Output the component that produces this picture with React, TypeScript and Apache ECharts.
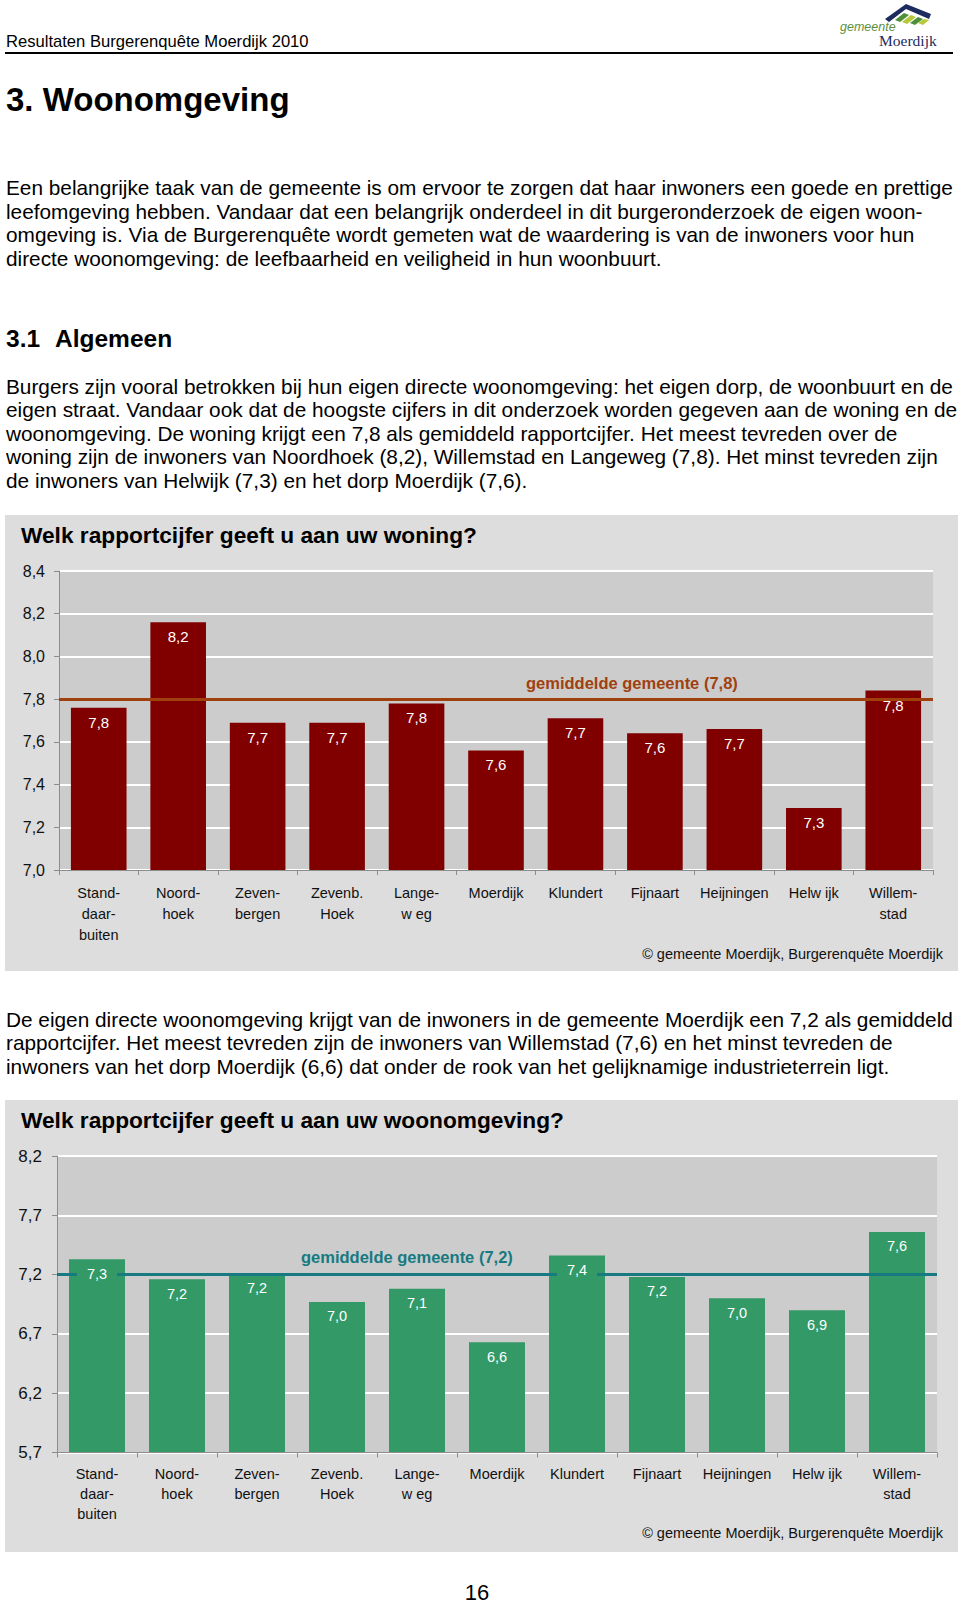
import React, { useEffect, useRef } from "react";
import * as echarts from "echarts";

// ---------- data ----------
const categories = [
  "Stand-\ndaar-\nbuiten",
  "Noord-\nhoek",
  "Zeven-\nbergen",
  "Zevenb.\nHoek",
  "Lange-\nw eg",
  "Moerdijk",
  "Klundert",
  "Fijnaart",
  "Heijningen",
  "Helw ijk",
  "Willem-\nstad",
];
const woningValues = [7.76, 8.16, 7.69, 7.69, 7.78, 7.56, 7.71, 7.64, 7.66, 7.29, 7.84];
const woningAverage = 7.8;
const woningAxis = [7.0, 8.4, 0.2]; // min, max, interval

const woonomgevingValues = [7.33, 7.16, 7.21, 6.97, 7.08, 6.63, 7.36, 7.18, 7.0, 6.9, 7.56];
const woonomgevingAverage = 7.2;
const woonomgevingAxis = [5.7, 8.2, 0.5]; // min, max, interval

const headerText = "Resultaten Burgerenquête Moerdijk 2010";
const chapterTitle = "3. Woonomgeving";
const paragraph1 = [
  "Een belangrijke taak van de gemeente is om ervoor te zorgen dat haar inwoners een goede en prettige",
  "leefomgeving hebben. Vandaar dat een belangrijk onderdeel in dit burgeronderzoek de eigen woon-",
  "omgeving is. Via de Burgerenquête wordt gemeten wat de waardering is van de inwoners voor hun",
  "directe woonomgeving: de leefbaarheid en veiligheid in hun woonbuurt.",
];
const paragraph2 = [
  "Burgers zijn vooral betrokken bij hun eigen directe woonomgeving: het eigen dorp, de woonbuurt en de",
  "eigen straat. Vandaar ook dat de hoogste cijfers in dit onderzoek worden gegeven aan de woning en de",
  "woonomgeving. De woning krijgt een 7,8 als gemiddeld rapportcijfer. Het meest tevreden over de",
  "woning zijn de inwoners van Noordhoek (8,2), Willemstad en Langeweg (7,8). Het minst tevreden zijn",
  "de inwoners van Helwijk (7,3) en het dorp Moerdijk (7,6).",
];
const paragraph3 = [
  "De eigen directe woonomgeving krijgt van de inwoners in de gemeente Moerdijk een 7,2 als gemiddeld",
  "rapportcijfer. Het meest tevreden zijn de inwoners van Willemstad (7,6) en het minst tevreden de",
  "inwoners van het dorp Moerdijk (6,6) dat onder de rook van het gelijknamige industrieterrein ligt.",
];
const chart1Title = "Welk rapportcijfer geeft u aan uw woning?";
const chart2Title = "Welk rapportcijfer geeft u aan uw woonomgeving?";
const sourceText = "© gemeente Moerdijk, Burgerenquête Moerdijk";
const pageNumber = "16";

// ---------- helpers ----------
const SANS = "'Liberation Sans', Arial, Helvetica, sans-serif";
const SERIF = "'Liberation Serif', 'Times New Roman', serif";
const fmt = (v: number) => v.toFixed(1).replace(".", ",");

function fontAvailable(name: string): boolean {
  try {
    const ctx = document.createElement("canvas").getContext("2d");
    if (!ctx) return false;
    const sample = "Heijningen Willemstad 0123";
    ctx.font = "40px monospace";
    const a = ctx.measureText(sample).width;
    ctx.font = `40px '${name}', monospace`;
    const b = ctx.measureText(sample).width;
    return Math.abs(a - b) > 0.5;
  } catch (e) {
    return false;
  }
}

function txt(text: string, x: number, y: number, size: number, extra: any = {}) {
  return {
    type: "text",
    x,
    y,
    z: 5,
    style: {
      text,
      fontSize: size,
      fontFamily: extra.fontFamily || SANS,
      fontWeight: extra.fontWeight || "normal",
      fontStyle: extra.fontStyle || "normal",
      fill: extra.fill || "#000",
      align: extra.align || "left",
      verticalAlign: "middle",
    },
  };
}

export default function App() {
  const ref = useRef<HTMLDivElement>(null);

  useEffect(() => {
    if (!ref.current) return;
    const chart = echarts.init(ref.current, undefined, { renderer: "svg" });

    const hasNarrow = fontAvailable("Liberation Sans Narrow");
    const NARROW = hasNarrow ? "'Liberation Sans Narrow', 'Liberation Sans', sans-serif" : SANS;
    const narrowSize = hasNarrow ? 17.5 : 14.5;

    const elements: any[] = [];
    // chart panels
    elements.push({ type: "rect", z: -10, shape: { x: 5, y: 515, width: 953, height: 456 }, style: { fill: "#DDDDDD" } });
    elements.push({ type: "rect", z: -10, shape: { x: 5, y: 1100, width: 953, height: 452 }, style: { fill: "#DDDDDD" } });

    // header
    elements.push(txt(headerText, 6, 41, 16.6));
    elements.push({ type: "line", z: 5, shape: { x1: 5, y1: 53, x2: 953, y2: 53 }, style: { stroke: "#000", lineWidth: 2 } });
    // logo
    elements.push({ type: "polygon", z: 5, shape: { points: [[885, 19], [906, 4], [931, 14], [929, 19], [906, 9], [889, 22]] }, style: { fill: "#1D2B5E" } });
    elements.push({ type: "polygon", z: 5, shape: { points: [[895, 20], [904, 13], [909, 15], [900, 22]] }, style: { fill: "#4E8F3A" } });
    elements.push({ type: "polygon", z: 5, shape: { points: [[902, 22], [911, 15], [916, 17], [907, 24]] }, style: { fill: "#B5C93A" } });
    elements.push({ type: "polygon", z: 5, shape: { points: [[910, 23], [918, 17], [923, 19], [915, 25]] }, style: { fill: "#4E8F3A" } });
    elements.push({ type: "polygon", z: 5, shape: { points: [[918, 23], [924, 19], [929, 20], [923, 25]] }, style: { fill: "#B5C93A" } });
    elements.push(txt("gemeente", 840, 27, 12.5, { fontStyle: "italic", fill: "#5E8F3E" }));
    elements.push(txt("Moerdijk", 879, 40, 15.5, { fontFamily: SERIF, fill: "#1D2B5E" }));

    // chapter
    elements.push(txt(chapterTitle, 6, 99, 33, { fontWeight: "bold" }));
    paragraph1.forEach((l, i) => elements.push(txt(l, 6, 187.5 + i * 23.5, 20.8)));
    elements.push(txt("3.1", 6, 338, 24.5, { fontWeight: "bold" }));
    elements.push(txt("Algemeen", 55, 338, 24.5, { fontWeight: "bold" }));
    paragraph2.forEach((l, i) => elements.push(txt(l, 6, 386 + i * 23.6, 20.8)));
    paragraph3.forEach((l, i) => elements.push(txt(l, 6, 1019 + i * 23.7, 20.8)));

    // chart titles + sources
    elements.push(txt(chart1Title, 21, 535, 22.7, { fontWeight: "bold" }));
    elements.push(txt(chart2Title, 21, 1120, 22.7, { fontWeight: "bold" }));
    elements.push(txt(sourceText, 943, 954, narrowSize, { fontFamily: NARROW, align: "right", fill: "#111" }));
    elements.push(txt(sourceText, 943, 1533, narrowSize, { fontFamily: NARROW, align: "right", fill: "#111" }));
    elements.push(txt(pageNumber, 477, 1592, 22, { align: "center" }));

    const axisGray = "#8C8C8C";
    const xAxisBase = (gridIndex: number, margin: number, lineHeight: number) => ({
      type: "category",
      gridIndex,
      data: categories,
      z: 3,
      axisLine: { show: true, lineStyle: { color: axisGray, width: 1 } },
      axisTick: { show: true, length: 5, lineStyle: { color: axisGray } },
      axisLabel: {
        interval: 0,
        margin,
        lineHeight,
        fontSize: narrowSize,
        fontFamily: NARROW,
        color: "#111",
      },
      splitLine: { show: false },
    });
    const yAxisBase = (gridIndex: number, axis: number[], margin: number, fontSize: number) => ({
      type: "value",
      gridIndex,
      min: axis[0],
      max: axis[1],
      interval: axis[2],
      axisLine: { show: true, lineStyle: { color: axisGray, width: 1 } },
      axisTick: { show: true, length: 5, lineStyle: { color: axisGray } },
      axisLabel: { margin, fontSize, fontFamily: SANS, color: "#111", formatter: (v: number) => fmt(v) },
      splitLine: { show: true, lineStyle: { color: "#FFFFFF", width: 2 } },
    });

    const option: any = {
      animation: false,
      graphic: { elements },
      grid: [
        { left: 59, right: 27, top: 571, height: 299, show: true, backgroundColor: "#CCCCCC", borderWidth: 0 },
        { left: 57, right: 23, top: 1156, height: 296.5, show: true, backgroundColor: "#CCCCCC", borderWidth: 0 },
      ],
      xAxis: [xAxisBase(0, 12, 21), xAxisBase(1, 11, 20)],
      yAxis: [yAxisBase(0, woningAxis, 14, 16), yAxisBase(1, woonomgevingAxis, 15, 17)],
      series: [
        {
          type: "bar",
          name: "woning",
          xAxisIndex: 0,
          yAxisIndex: 0,
          data: woningValues,
          barWidth: "70%",
          itemStyle: { color: "#800000" },
          z: 2,
          silent: true,
          markLine: {
            silent: true,
            z: 5,
            symbol: "none",
            animation: false,
            data: [{ yAxis: woningAverage }],
            lineStyle: { color: "#A1400F", width: 3, type: "solid" },
            label: {
              show: true,
              position: "insideStartTop",
              distance: [467, 8],
              formatter: `gemiddelde gemeente (${fmt(woningAverage)})`,
              color: "#A1400F",
              fontWeight: "bold",
              fontSize: 16.5,
              fontFamily: SANS,
            },
          },
        },
        {
          type: "bar",
          name: "woningLabels",
          xAxisIndex: 0,
          yAxisIndex: 0,
          data: woningValues,
          barWidth: "70%",
          barGap: "-100%",
          itemStyle: { color: "rgba(0,0,0,0)" },
          z: 10,
          silent: true,
          label: {
            show: true,
            position: "insideTop",
            distance: 7,
            formatter: (p: any) => fmt(p.value),
            color: "#FFFFFF",
            fontSize: 15,
            fontFamily: SANS,
          },
        },
        {
          type: "bar",
          name: "woonomgeving",
          xAxisIndex: 1,
          yAxisIndex: 1,
          data: woonomgevingValues,
          barWidth: "70%",
          itemStyle: { color: "#339966" },
          z: 2,
          silent: true,
          markLine: {
            silent: true,
            z: 5,
            symbol: "none",
            animation: false,
            data: [{ yAxis: woonomgevingAverage }],
            lineStyle: { color: "#167A80", width: 3, type: "solid" },
            label: {
              show: true,
              position: "insideStartTop",
              distance: [244, 9],
              formatter: `gemiddelde gemeente (${fmt(woonomgevingAverage)})`,
              color: "#167A80",
              fontWeight: "bold",
              fontSize: 16.5,
              fontFamily: SANS,
            },
          },
        },
        {
          type: "bar",
          name: "woonomgevingLabels",
          xAxisIndex: 1,
          yAxisIndex: 1,
          data: woonomgevingValues,
          barWidth: "70%",
          barGap: "-100%",
          itemStyle: { color: "rgba(0,0,0,0)" },
          z: 10,
          silent: true,
          label: {
            show: true,
            position: "insideTop",
            distance: 5,
            formatter: (p: any) => fmt(p.value),
            color: "#FFFFFF",
            fontSize: 14.5,
            fontFamily: SANS,
            backgroundColor: "#339966",
            padding: [2, 10],
          },
        },
      ],
    };

    chart.setOption(option);
    return () => {
      chart.dispose();
    };
  }, []);

  return (
    <div
      ref={ref}
      style={{ position: "absolute", left: 0, top: 0, width: 960, height: 1606, background: "#FFFFFF" }}
    />
  );
}
